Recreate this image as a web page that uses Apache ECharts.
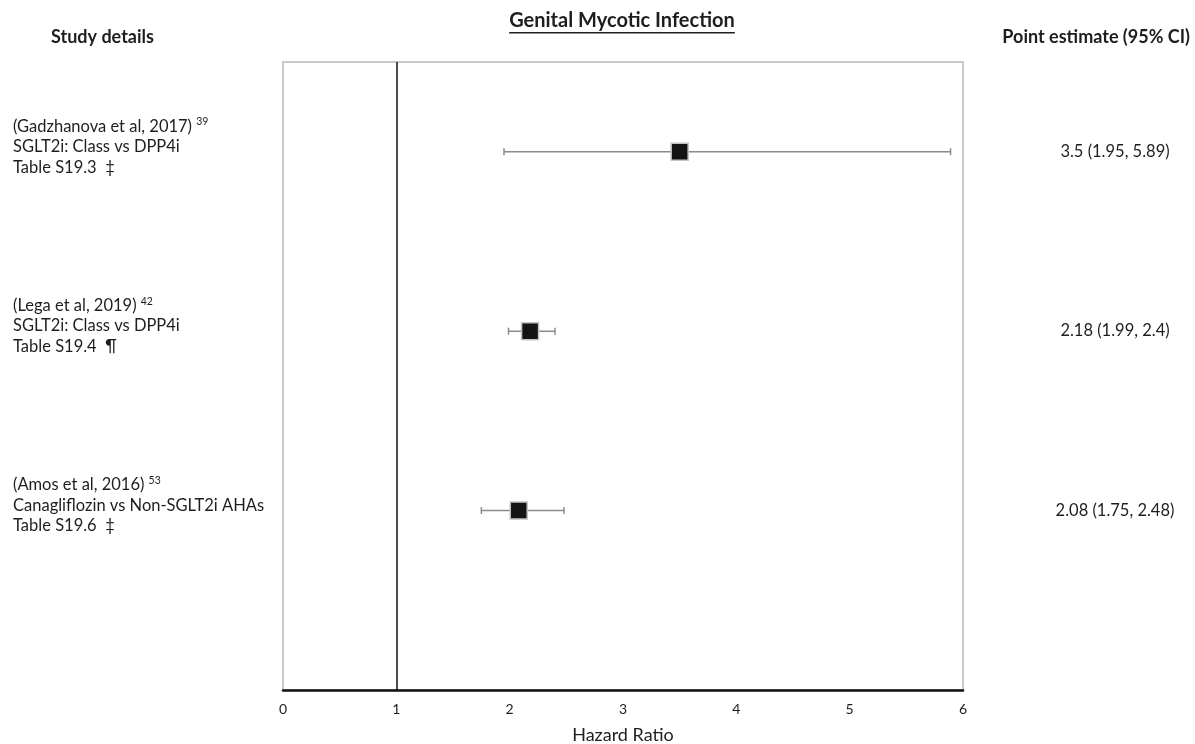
<!DOCTYPE html>
<html>
<head>
<meta charset="utf-8">
<script src="https://cdn.jsdelivr.net/npm/echarts@6/dist/echarts.min.js"></script>
<style>html,body{margin:0;padding:0;background:#fff}#c{width:1195px;height:744px}</style>
</head>
<body>
<div id="c"></div>
<script>
const studies = ['(Gadzhanova et al, 2017)', '(Lega et al, 2019)', '(Amos et al, 2016)'];
const refs = ['39', '42', '53'];
const comparisons = ['SGLT2i: Class vs DPP4i', 'SGLT2i: Class vs DPP4i', 'Canagliflozin vs Non-SGLT2i AHAs'];
const tables = ['Table S19.3  ‡', 'Table S19.4  ¶', 'Table S19.6  ‡'];
const estimates = [3.5, 2.18, 2.08];
const lower = [1.95, 1.99, 1.75];
const upper = [5.89, 2.4, 2.48];
const rowPos = [3, 2, 1];
const xTicks = [0, 1, 2, 3, 4, 5, 6];
const refLine = 1;
const titleText = 'Genital Mycotic Infection';

const FONT = 'Lato, "Open Sans", sans-serif';
const TXT = '#1e1e1e';

function rowIndex(v) { return rowPos.indexOf(Math.round(v)); }

// measure title width for underline
const cv = document.createElement('canvas').getContext('2d');
cv.font = 'bold 20px ' + FONT;
const titleW = cv.measureText(titleText).width;
const titleX = 622;

const chart = echarts.init(document.getElementById('c'));
chart.setOption({
  animation: false,
  textStyle: { fontFamily: FONT },
  grid: { left: 283, right: 232, top: 62, bottom: 54, outerBoundsMode: 'none', containLabel: false, show: true, borderColor: '#c9c9c9', borderWidth: 2, backgroundColor: 'transparent' },
  graphic: [
    { type: 'text', x: 51, y: 37, style: { text: 'Study details', font: 'bold 18px ' + FONT, fill: TXT, verticalAlign: 'middle' } },
    { type: 'text', x: titleX, y: 21, style: { text: titleText, font: 'bold 20px ' + FONT, fill: TXT, align: 'center', verticalAlign: 'middle' } },
    { type: 'rect', shape: { x: titleX - titleW / 2, y: 32, width: titleW, height: 1.6 }, style: { fill: TXT } },
    { type: 'text', x: 1190, y: 37, style: { text: 'Point estimate (95% CI)', font: 'bold 18px ' + FONT, fill: TXT, align: 'right', verticalAlign: 'middle' } }
  ],
  xAxis: {
    type: 'value', min: xTicks[0], max: xTicks[xTicks.length - 1], interval: 1,
    axisLine: { show: true, onZero: false, lineStyle: { color: '#111', width: 2.5 } },
    axisTick: { show: false },
    splitLine: { show: false },
    axisLabel: { fontSize: 14, color: TXT, margin: 12, fontFamily: FONT },
    name: 'Hazard Ratio', nameLocation: 'middle', nameGap: 36,
    nameTextStyle: { fontSize: 18, color: TXT, fontFamily: FONT }
  },
  yAxis: [
    {
      type: 'value', min: 0, max: 3.5, interval: 1, position: 'left',
      axisLine: { show: false }, axisTick: { show: false }, splitLine: { show: false },
      axisLabel: {
        align: 'left', margin: 270, padding: [0, 0, 10, 0],
        formatter: function (v) {
          const i = rowIndex(v);
          if (i < 0 || Math.abs(v - rowPos[i]) > 1e-6) return '';
          return studies[i] + ' {sup|' + refs[i] + '}\n' + comparisons[i] + '\n' + tables[i];
        },
        color: TXT, fontSize: 16.5, lineHeight: 20.5, fontFamily: FONT,
        rich: { sup: { fontSize: 10.5, color: TXT, fontFamily: FONT, padding: [0, 0, 9, 0], lineHeight: 20.5 } }
      }
    },
    {
      type: 'value', min: 0, max: 3.5, interval: 1, position: 'right',
      axisLine: { show: false }, axisTick: { show: false }, splitLine: { show: false },
      axisLabel: {
        align: 'center', margin: 152,
        formatter: function (v) {
          const i = rowIndex(v);
          if (i < 0 || Math.abs(v - rowPos[i]) > 1e-6) return '';
          return estimates[i] + ' (' + lower[i] + ', ' + upper[i] + ')';
        },
        color: TXT, fontSize: 16.5, fontFamily: FONT
      }
    }
  ],
  series: [
    {
      type: 'custom',
      silent: true,
      data: rowPos.map((y, i) => [lower[i], upper[i], y]),
      encode: { x: [0, 1], y: 2 },
      z: 2,
      renderItem: function (params, api) {
        const lo = api.coord([api.value(0), api.value(2)]);
        const hi = api.coord([api.value(1), api.value(2)]);
        const cap = 3.5;
        const st = { stroke: '#8a8a8a', lineWidth: 1.5 };
        return {
          type: 'group',
          children: [
            { type: 'line', shape: { x1: lo[0], y1: lo[1], x2: hi[0], y2: hi[1] }, style: st },
            { type: 'line', shape: { x1: lo[0], y1: lo[1] - cap, x2: lo[0], y2: lo[1] + cap }, style: st },
            { type: 'line', shape: { x1: hi[0], y1: hi[1] - cap, x2: hi[0], y2: hi[1] + cap }, style: st }
          ]
        };
      }
    },
    {
      type: 'scatter',
      data: rowPos.map((y, i) => [estimates[i], y]),
      symbol: 'rect', symbolSize: 17,
      itemStyle: { color: '#141414', borderColor: '#c4c4c4', borderWidth: 1.5, opacity: 1 },
      z: 3,
      markLine: {
        silent: true, symbol: 'none', label: { show: false },
        lineStyle: { color: '#111', width: 1.5, type: 'solid' },
        data: [{ xAxis: refLine }]
      }
    }
  ]
});
</script>
</body>
</html>
